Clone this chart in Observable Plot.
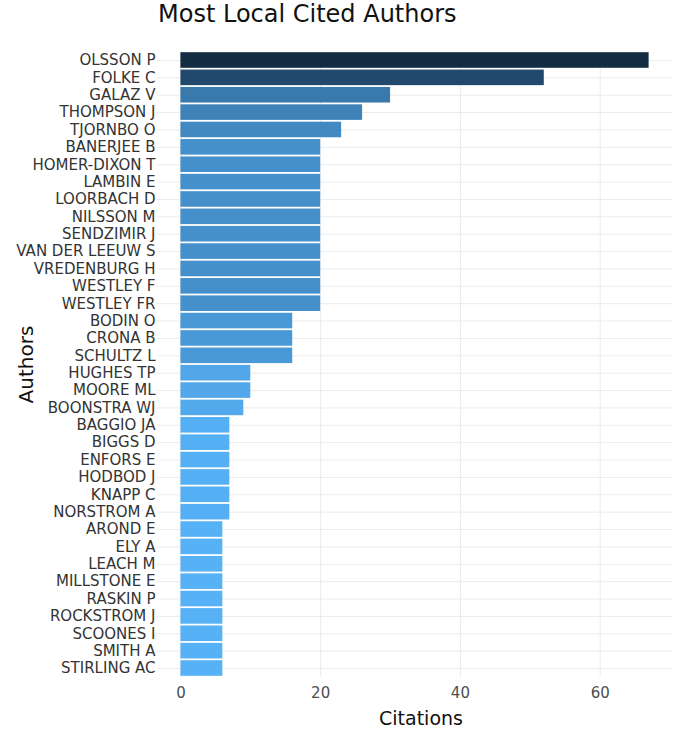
<!DOCTYPE html>
<html>
<head>
<meta charset="utf-8">
<script src="https://cdn.jsdelivr.net/npm/d3@7"></script>
<script src="https://cdn.jsdelivr.net/npm/@observablehq/plot@0.6"></script>
<style>
  html, body { margin: 0; padding: 0; background: #fff; }
  #title { height: 38px; font-family: "DejaVu Sans", sans-serif; font-size: 24px; line-height: 28px; padding-left: 158px; color: #111; white-space: nowrap; }
  #chart svg { display: block; }
</style>
</head>
<body>
<div id="title">Most Local Cited Authors</div>
<div id="chart"></div>
<script>
const authors = ["OLSSON P","FOLKE C","GALAZ V","THOMPSON J","TJORNBO O","BANERJEE B","HOMER-DIXON T","LAMBIN E","LOORBACH D","NILSSON M","SENDZIMIR J","VAN DER LEEUW S","VREDENBURG H","WESTLEY F","WESTLEY FR","BODIN O","CRONA B","SCHULTZ L","HUGHES TP","MOORE ML","BOONSTRA WJ","BAGGIO JA","BIGGS D","ENFORS E","HODBOD J","KNAPP C","NORSTROM A","AROND E","ELY A","LEACH M","MILLSTONE E","RASKIN P","ROCKSTROM J","SCOONES I","SMITH A","STIRLING AC"];
const citations = [67,52,30,26,23,20,20,20,20,20,20,20,20,20,20,16,16,16,10,10,9,7,7,7,7,7,7,6,6,6,6,6,6,6,6,6];
const xTicks = [0,20,40,60];
const xTitle = "Citations";
const yTitle = "Authors";

const data = authors.map((a, i) => ({author: a, value: citations[i]}));
const vmin = d3.min(citations), vmax = d3.max(citations);
const pad = (vmax - 0) * 0.05;

const chart = Plot.plot({
  width: 685,
  height: 694,
  marginTop: 13.3,
  marginBottom: 55.3,
  marginLeft: 157,
  marginRight: 13,
  style: {fontFamily: "DejaVu Sans, sans-serif", fontSize: "15px", color: "#333", background: "#fff"},
  x: {domain: [0 - pad, vmax + pad]},
  y: {domain: authors, padding: 0, round: false},
  color: {type: "linear", domain: [vmin, vmax], range: ["#56B1F7", "#132B43"], interpolate: "lab"},
  marks: [
    Plot.gridX({ticks: xTicks, stroke: "#ebebeb", strokeOpacity: 1, strokeWidth: 1}),
    Plot.gridY({stroke: "#ebebeb", strokeOpacity: 1, strokeWidth: 1}),
    Plot.barX(data, {x: "value", y: "author", fill: "value", insetTop: 0.9, insetBottom: 0.9}),
    Plot.axisY({tickSize: 0, tickPadding: 2, fontSize: 15, label: null, fill: "#333", ariaLabel: "y-axis"}),
    Plot.axisX({ticks: xTicks, tickSize: 0, tickPadding: 10, fontSize: 15, label: null, fill: "#4d4d4d"}),
    Plot.text([xTitle], {text: d => d, frameAnchor: "bottom", dy: 42, dx: 6, lineAnchor: "middle", textAnchor: "middle", fontSize: 19, fill: "#111"}),
    Plot.text([yTitle], {text: d => d, frameAnchor: "left", dx: -131, rotate: -90, lineAnchor: "middle", textAnchor: "middle", fontSize: 20, fill: "#111"})
  ]
});
d3.select(chart).selectAll('g[aria-label="y-axis"] text').style("letter-spacing", "0.7px");
document.getElementById("chart").appendChild(chart);
</script>
</body>
</html>
